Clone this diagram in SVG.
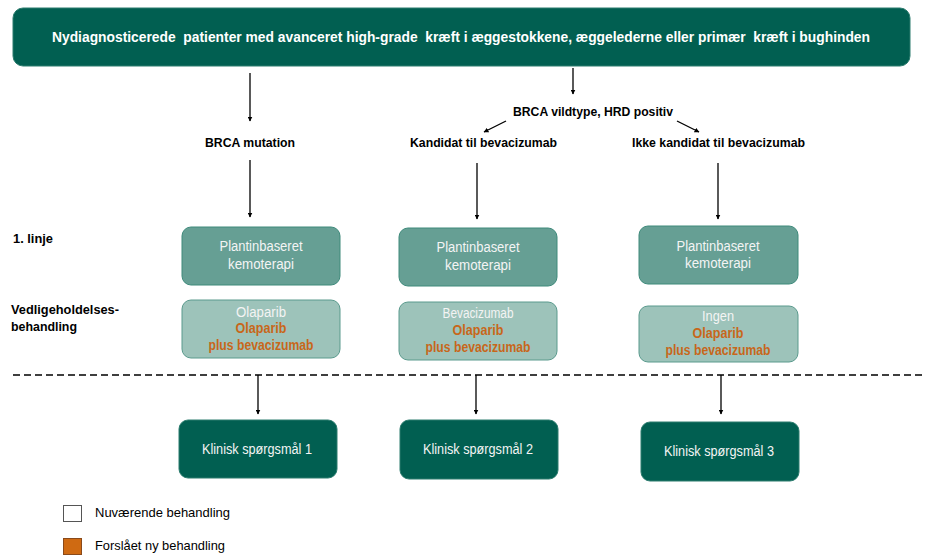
<svg xmlns="http://www.w3.org/2000/svg" width="925" height="556" viewBox="0 0 925 556">
  <defs>
    <marker id="arrowHead" viewBox="0 0 10 10" refX="9" refY="5" markerWidth="5" markerHeight="5" orient="auto" markerUnits="userSpaceOnUse">
      <path d="M0,0 L10,5 L0,10 z" fill="#000"/>
    </marker>
    <style>
      text { font-family: "Liberation Sans", Arial, sans-serif; }
      .head { fill: #ffffff; font-size: 14px; font-weight: bold; white-space: pre; }
      .lbl { fill: #000; font-size: 13px; font-weight: bold; }
      .box-dark { fill: #015f51; stroke: #2d7d6f; stroke-width: 1; }
      .box-mid { fill: #669f94; stroke: #3e8a7b; stroke-width: 1; }
      .box-light { fill: #9dc3ba; stroke: #5a9a8d; stroke-width: 1; }
      .t-white { fill: #f4f4f4; font-size: 14px; text-anchor: middle; }
      .t-orange { fill: #c8671a; font-size: 14px; font-weight: bold; text-anchor: middle; }
      .legend { fill: #000; font-size: 13px; }
      .conn { stroke: #000; stroke-width: 1.3; fill: none; }
    </style>
  </defs>

  <rect width="925" height="556" fill="#ffffff"/>

  <!-- top population box -->
  <g id="population">
    <rect class="box-dark" x="13" y="8" width="897" height="58" rx="10"/>
    <text class="head" x="52" y="42" textLength="818" lengthAdjust="spacingAndGlyphs" xml:space="preserve">Nydiagnosticerede  patienter med avanceret high-grade  kræft i æggestokkene, æggelederne eller primær  kræft i bughinden</text>
  </g>

  <!-- branch labels -->
  <g id="label-brca-wt">
    <text class="lbl" x="513" y="116" textLength="160" lengthAdjust="spacingAndGlyphs">BRCA vildtype, HRD positiv</text>
  </g>
  <g id="label-brca-mut">
    <text class="lbl" x="205" y="147" textLength="90" lengthAdjust="spacingAndGlyphs">BRCA mutation</text>
  </g>
  <g id="label-bev-yes">
    <text class="lbl" x="410" y="147" textLength="147" lengthAdjust="spacingAndGlyphs">Kandidat til bevacizumab</text>
  </g>
  <g id="label-bev-no">
    <text class="lbl" x="632" y="147" textLength="173" lengthAdjust="spacingAndGlyphs">Ikke kandidat til bevacizumab</text>
  </g>

  <!-- row labels -->
  <g id="row-labels">
    <text class="lbl" x="13" y="243" textLength="40" lengthAdjust="spacingAndGlyphs">1. linje</text>
    <text class="lbl" x="11" y="314" textLength="108" lengthAdjust="spacingAndGlyphs">Vedligeholdelses-</text>
    <text class="lbl" x="11" y="331" textLength="66" lengthAdjust="spacingAndGlyphs">behandling</text>
  </g>

  <!-- first line: chemotherapy -->
  <g id="chemo-1">
    <rect class="box-mid" x="182" y="227" width="158" height="58" rx="9"/>
    <text class="t-white" x="261" y="251" textLength="83" lengthAdjust="spacingAndGlyphs">Plantinbaseret</text>
    <text class="t-white" x="261" y="269" textLength="66" lengthAdjust="spacingAndGlyphs">kemoterapi</text>
  </g>
  <g id="chemo-2">
    <rect class="box-mid" x="399" y="228" width="158" height="58" rx="9"/>
    <text class="t-white" x="478" y="252" textLength="83" lengthAdjust="spacingAndGlyphs">Plantinbaseret</text>
    <text class="t-white" x="478" y="270" textLength="66" lengthAdjust="spacingAndGlyphs">kemoterapi</text>
  </g>
  <g id="chemo-3">
    <rect class="box-mid" x="639" y="226" width="159" height="58" rx="9"/>
    <text class="t-white" x="718" y="251" textLength="83" lengthAdjust="spacingAndGlyphs">Plantinbaseret</text>
    <text class="t-white" x="718" y="268" textLength="66" lengthAdjust="spacingAndGlyphs">kemoterapi</text>
  </g>

  <!-- maintenance treatment -->
  <g id="maint-1">
    <rect class="box-light" x="182" y="300" width="158" height="58" rx="9"/>
    <text class="t-white" x="261" y="317" textLength="50" lengthAdjust="spacingAndGlyphs">Olaparib</text>
    <text class="t-orange" x="261" y="333" textLength="51" lengthAdjust="spacingAndGlyphs">Olaparib</text>
    <text class="t-orange" x="261" y="350" textLength="105" lengthAdjust="spacingAndGlyphs">plus bevacizumab</text>
  </g>
  <g id="maint-2">
    <rect class="box-light" x="399" y="302" width="158" height="58" rx="9"/>
    <text class="t-white" x="478" y="318" textLength="71" lengthAdjust="spacingAndGlyphs">Bevacizumab</text>
    <text class="t-orange" x="478" y="335" textLength="51" lengthAdjust="spacingAndGlyphs">Olaparib</text>
    <text class="t-orange" x="478" y="352" textLength="105" lengthAdjust="spacingAndGlyphs">plus bevacizumab</text>
  </g>
  <g id="maint-3">
    <rect class="box-light" x="639" y="306" width="159" height="56" rx="9"/>
    <text class="t-white" x="718" y="321" textLength="32" lengthAdjust="spacingAndGlyphs">Ingen</text>
    <text class="t-orange" x="718" y="338" textLength="51" lengthAdjust="spacingAndGlyphs">Olaparib</text>
    <text class="t-orange" x="718" y="355" textLength="105" lengthAdjust="spacingAndGlyphs">plus bevacizumab</text>
  </g>

  <!-- clinical questions -->
  <g id="question-1">
    <rect class="box-dark" x="179" y="420" width="158" height="58" rx="9"/>
    <text class="t-white" x="257" y="454" textLength="110" lengthAdjust="spacingAndGlyphs">Klinisk spørgsmål 1</text>
  </g>
  <g id="question-2">
    <rect class="box-dark" x="400" y="420" width="158" height="59" rx="9"/>
    <text class="t-white" x="478" y="454" textLength="110" lengthAdjust="spacingAndGlyphs">Klinisk spørgsmål 2</text>
  </g>
  <g id="question-3">
    <rect class="box-dark" x="641" y="422" width="158" height="59" rx="9"/>
    <text class="t-white" x="719" y="456" textLength="110" lengthAdjust="spacingAndGlyphs">Klinisk spørgsmål 3</text>
  </g>

  <!-- legend -->
  <g id="legend">
    <rect x="63.5" y="505.5" width="18" height="16" fill="#ffffff" stroke="#555" stroke-width="1"/>
    <text class="legend" x="95" y="517" textLength="135" lengthAdjust="spacingAndGlyphs">Nuværende behandling</text>
    <rect x="63.5" y="538.5" width="18" height="16" fill="#cf6a12" stroke="#8a4a1a" stroke-width="1"/>
    <text class="legend" x="95" y="550" textLength="130" lengthAdjust="spacingAndGlyphs">Forslået ny behandling</text>
  </g>

  <!-- connectors -->
  <g id="connectors">
    <line class="conn" x1="250" y1="73" x2="250" y2="121" marker-end="url(#arrowHead)"/>
    <line class="conn" x1="573" y1="68" x2="573" y2="94" marker-end="url(#arrowHead)"/>
    <line class="conn" x1="506" y1="121" x2="484" y2="132" marker-end="url(#arrowHead)"/>
    <line class="conn" x1="677" y1="121" x2="699" y2="132" marker-end="url(#arrowHead)"/>
    <line class="conn" x1="250" y1="160" x2="250" y2="217" marker-end="url(#arrowHead)"/>
    <line class="conn" x1="477" y1="163" x2="477" y2="219" marker-end="url(#arrowHead)"/>
    <line class="conn" x1="718" y1="163" x2="718" y2="219" marker-end="url(#arrowHead)"/>
    <line x1="13" y1="375" x2="925" y2="375" stroke="#000" stroke-width="1.5" stroke-dasharray="7,4"/>
    <line class="conn" x1="258" y1="375" x2="258" y2="414" marker-end="url(#arrowHead)"/>
    <line class="conn" x1="476" y1="375" x2="476" y2="414" marker-end="url(#arrowHead)"/>
    <line class="conn" x1="721" y1="375" x2="721" y2="414" marker-end="url(#arrowHead)"/>
  </g>
</svg>
